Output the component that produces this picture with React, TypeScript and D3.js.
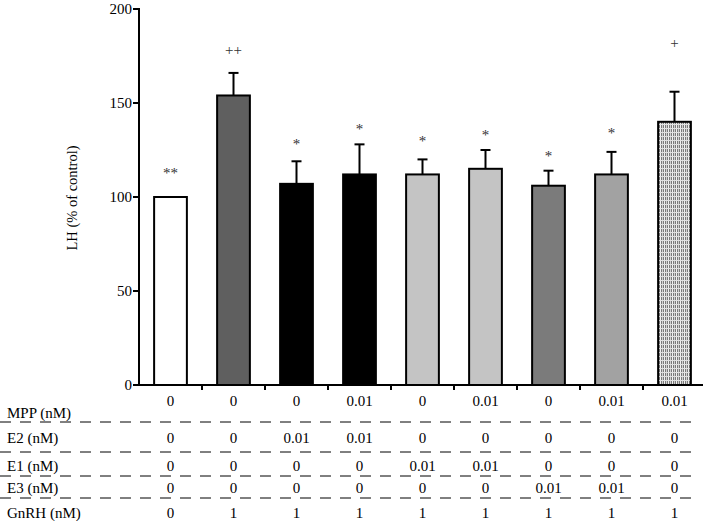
import React from "react";
import * as d3 from "d3";

const groups = ["g1", "g2", "g3", "g4", "g5", "g6", "g7", "g8", "g9"];
const means = [100, 154, 107, 112, 112, 115, 106, 112, 140];
const errUpper = [0, 12, 12, 16, 8, 10, 8, 12, 16];
const sigLabels = ["**", "++", "*", "*", "*", "*", "*", "*", "+"];
const sigLevels = [113, 178, 128, 136, 130, 133, 122, 134, 182];
const fills = ["#ffffff", "#5f5f5f", "#000000", "#000000", "#c4c4c4", "#c4c4c4", "#7b7b7b", "#a2a2a2", "url(#grid)"];
const yTicks = [0, 50, 100, 150, 200];
const rowLabels = ["MPP (nM)", "E2 (nM)", "E1 (nM)", "E3 (nM)", "GnRH (nM)"];
const mpp = ["0", "0", "0", "0.01", "0", "0.01", "0", "0.01", "0.01"];
const e2 = ["0", "0", "0.01", "0.01", "0", "0", "0", "0", "0"];
const e1 = ["0", "0", "0", "0", "0.01", "0.01", "0", "0", "0"];
const e3 = ["0", "0", "0", "0", "0", "0", "0.01", "0.01", "0"];
const gnrh = ["0", "1", "1", "1", "1", "1", "1", "1", "1"];
const tableRows = [mpp, e2, e1, e3, gnrh];

export default function App() {
  const W = 709, H = 521;
  const x0 = 139, x1 = 706, yTop = 9, yBot = 385;
  const x = d3.scaleBand<string>().domain(groups).range([x0, x1]).paddingInner(0.48).paddingOuter(0.24);
  const step = (x1 - x0) / groups.length;
  const y = d3.scaleLinear().domain([0, 200]).range([yBot, yTop]);
  const font = "Liberation Serif";
  const rowValueY = [401, 438, 466, 488, 513];
  const rowLabelY = [413, 438, 466, 488, 513];
  const dashY = [422, 452, 476, 498];
  const bw = x.bandwidth();

  return (
    <svg width={W} height={H} style={{ position: "absolute", left: 0, top: 0, fontFamily: font }}>
      <defs>
        <pattern id="grid" width="4" height="4" patternUnits="userSpaceOnUse">
          <rect width="4" height="4" fill="#7a7a7a" />
          <rect x="0" y="0" width="1" height="4" fill="#f0f0f0" />
          <rect x="2" y="0" width="1" height="4" fill="#d0d0d0" />
          <rect x="0" y="0" width="4" height="1" fill="#e0e0e0" />
        </pattern>
      </defs>
      {/* bars */}
      {groups.map((g, i) => {
        const bx = x(g)!;
        const cx = bx + bw / 2;
        return (
          <g key={g}>
            {errUpper[i] > 0 && (
              <g stroke="#000" strokeWidth={2}>
                <line x1={cx} x2={cx} y1={y(means[i])} y2={y(means[i] + errUpper[i])} />
                <line x1={cx - 5} x2={cx + 5} y1={y(means[i] + errUpper[i])} y2={y(means[i] + errUpper[i])} />
              </g>
            )}
            <rect x={bx} y={y(means[i])} width={bw} height={yBot - y(means[i])} fill={fills[i]} stroke="#000" strokeWidth={2} />
            <text x={cx} y={y(sigLevels[i])} textAnchor="middle" dominantBaseline="central" fontSize={15} fill="#333" style={{ fontFamily: font }}>
              {sigLabels[i]}
            </text>
          </g>
        );
      })}
      {/* y axis */}
      <line x1={x0} x2={x0} y1={yTop - 1} y2={yBot + 1} stroke="#000" strokeWidth={2} />
      {yTicks.map((t) => (
        <g key={t}>
          <line x1={x0 - 6} x2={x0} y1={y(t)} y2={y(t)} stroke="#000" strokeWidth={2} />
          <text x={x0 - 7} y={y(t)} textAnchor="end" dominantBaseline="central" fontSize={15} style={{ fontFamily: font }}>
            {t}
          </text>
        </g>
      ))}
      <text transform={`translate(72,198) rotate(-90)`} textAnchor="middle" dominantBaseline="central" fontSize={14.5} style={{ fontFamily: font }}>
        LH (% of control)
      </text>
      {/* x axis */}
      <line x1={x0 - 1} x2={x1 - 3} y1={yBot} y2={yBot} stroke="#000" strokeWidth={2} />
      {groups.slice(1).map((g, i) => (
        <line key={g} x1={x0 + step * (i + 1)} x2={x0 + step * (i + 1)} y1={yBot} y2={yBot + 5} stroke="#000" strokeWidth={2} />
      ))}
      {/* table */}
      {dashY.map((dy) => (
        <line key={dy} x1={0} x2={700} y1={dy} y2={dy} stroke="#000" strokeWidth={1} strokeDasharray="11 9" />
      ))}
      {rowLabels.map((lab, r) => (
        <g key={lab}>
          <text x={7} y={rowLabelY[r]} dominantBaseline="central" fontSize={15} style={{ fontFamily: font }}>
            {lab}
          </text>
          {tableRows[r].map((v, i) => (
            <text key={i} x={x(groups[i])! + bw / 2} y={rowValueY[r]} textAnchor="middle" dominantBaseline="central" fontSize={15} style={{ fontFamily: font }}>
              {v}
            </text>
          ))}
        </g>
      ))}
    </svg>
  );
}
